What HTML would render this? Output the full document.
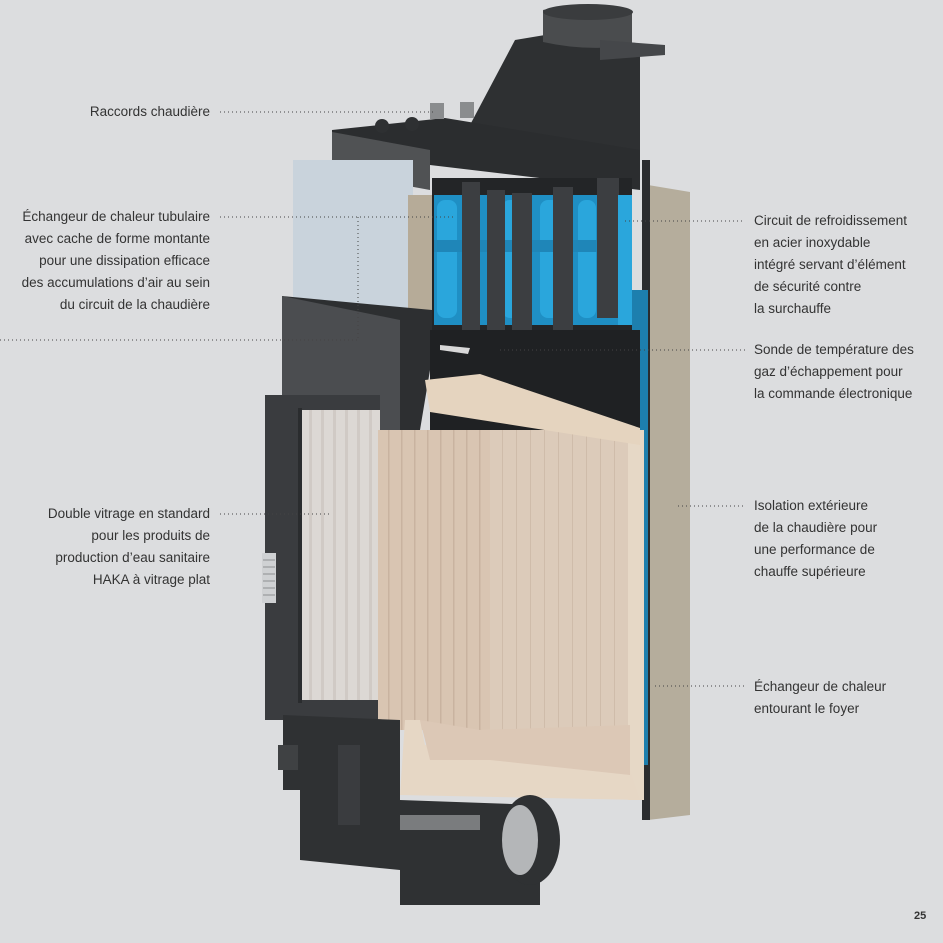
<!DOCTYPE html>
<html><head><meta charset="utf-8"><style>
html,body{margin:0;padding:0;background:#dcdddf;}
#c{position:relative;width:943px;height:943px;overflow:hidden;font-family:"Liberation Sans",sans-serif;color:#333;font-size:13.5px;}
.t{position:absolute;line-height:22px;white-space:nowrap}
.l{text-align:right;right:733px}
</style></head><body><div id="c">
<svg width="943" height="943" style="position:absolute;left:0;top:0">
<defs>
<pattern id="st" width="13" height="10" patternUnits="userSpaceOnUse"><rect width="13" height="10" fill="#d9c5b2"/><rect x="11" width="1.5" height="10" fill="#c9b3a0"/></pattern>
<pattern id="st2" width="14" height="10" patternUnits="userSpaceOnUse"><rect width="14" height="10" fill="#dccbba"/><rect x="12" width="1" height="10" fill="#cfbcaa"/></pattern>
<pattern id="gl" width="12" height="10" patternUnits="userSpaceOnUse"><rect width="12" height="10" fill="#dcd8d4"/><rect x="9" width="3" height="10" fill="#d0cac5"/></pattern>
</defs>
<!-- chimney -->
<path d="M515 40 L545 35 L640 48 L640 160 L470 125 Z" fill="#2e3032"/>
<path d="M543 10 Q588 -2 632 12 L632 45 Q588 52 543 42 Z" fill="#4a4c4e"/>
<ellipse cx="588" cy="12" rx="45" ry="8" fill="#3a3c3e"/>
<path d="M600 40 L665 45 L665 55 L600 60 Z" fill="#45474a"/>
<!-- top plate -->
<path d="M332 130 L445 118 L640 150 L640 190 L430 165 L332 160 Z" fill="#2b2d2f"/>
<path d="M332 132 L430 150 L430 190 L332 172 Z" fill="#505254"/>
<circle cx="382" cy="126" r="7" fill="#2e3032"/><circle cx="412" cy="124" r="7" fill="#2e3032"/>
<rect x="430" y="103" width="14" height="16" fill="#8a8c8e"/><rect x="460" y="102" width="14" height="16" fill="#8a8c8e"/>
<!-- insulation box left -->
<rect x="293" y="160" width="120" height="170" fill="#c9d3dc"/>
<rect x="408" y="195" width="25" height="135" fill="#b6ab98"/>
<!-- exchanger -->
<rect x="432" y="178" width="200" height="152" fill="#232527"/>
<rect x="434" y="195" width="196" height="130" fill="#1f8fc4"/>
<g fill="#2aa6dc"><rect x="437" y="200" width="20" height="118" rx="8"/><rect x="502" y="200" width="20" height="118" rx="8"/><rect x="540" y="200" width="20" height="118" rx="8"/><rect x="578" y="200" width="18" height="118" rx="8"/></g>
<rect x="434" y="240" width="196" height="12" fill="#1f86b8"/>
<g fill="#3c3e41"><rect x="462" y="182" width="18" height="150"/><rect x="487" y="190" width="18" height="145"/><rect x="512" y="193" width="20" height="148"/><rect x="553" y="187" width="20" height="145"/><rect x="597" y="178" width="22" height="140"/></g>
<rect x="618" y="195" width="14" height="130" fill="#2aa6dc"/>
<!-- right insulation -->
<path d="M648 185 L690 192 L690 815 L648 820 Z" fill="#b5ad9c"/>
<rect x="642" y="160" width="8" height="660" fill="#2a2c2e"/>
<rect x="632" y="290" width="16" height="475" fill="#1d7fae"/>
<!-- main dark body -->
<path d="M282 296 L432 310 L432 340 L640 340 L640 440 L430 370 L420 430 L380 440 L282 430 Z" fill="#2d2f31"/>
<path d="M282 296 L400 320 L400 440 L282 420 Z" fill="#4b4d50"/>
<rect x="430" y="330" width="210" height="110" fill="#1f2123"/>
<path d="M440 345 L470 348 L468 354 L440 350 Z" fill="#d8d8d8"/>
<!-- door frame -->
<rect x="265" y="395" width="115" height="325" fill="#3a3c3f"/>
<rect x="300" y="410" width="80" height="290" fill="url(#gl)"/>
<rect x="298" y="408" width="4" height="295" fill="#2a2c2e"/>
<rect x="262" y="553" width="14" height="50" fill="#cfd1d3"/>
<g stroke="#8d8f91" stroke-width="1"><line x1="263" y1="560" x2="275" y2="560"/><line x1="263" y1="567" x2="275" y2="567"/><line x1="263" y1="574" x2="275" y2="574"/><line x1="263" y1="581" x2="275" y2="581"/><line x1="263" y1="588" x2="275" y2="588"/><line x1="263" y1="595" x2="275" y2="595"/></g>
<!-- firebox -->
<rect x="378" y="430" width="120" height="300" fill="url(#st)"/>
<rect x="490" y="430" width="140" height="300" fill="url(#st2)"/>
<rect x="628" y="430" width="16" height="370" fill="#e6d8c6"/>
<path d="M425 380 L480 374 L640 428 L640 445 L430 412 Z" fill="#e5d4bf"/>
<path d="M405 720 L420 720 L425 745 L480 730 L630 728 L630 770 L640 800 L400 795 Z" fill="#e6d7c5"/>
<path d="M420 720 L430 760 L490 760 L630 775 L630 725 L480 730 Z" fill="#dcc8b6"/>
<!-- base -->
<path d="M283 715 L400 720 L400 800 L540 805 L540 905 L400 905 L400 870 L300 860 L300 790 L283 790 Z" fill="#2f3133"/>
<rect x="278" y="745" width="20" height="25" fill="#3f4143"/>
<rect x="338" y="745" width="22" height="80" fill="#3a3c3f"/>
<rect x="400" y="815" width="80" height="15" fill="#7a7c7e"/>
<ellipse cx="530" cy="840" rx="30" ry="45" fill="#2f3133"/>
<ellipse cx="520" cy="840" rx="18" ry="35" fill="#b4b6b8"/>
<!-- leaders -->
<g stroke="#444" stroke-width="1" stroke-dasharray="1 3" fill="none">
<path d="M220 112 H435"/>
<path d="M220 217 H455 M358 217 V340 H0"/>
<path d="M220 514 H330"/>
<path d="M625 221 H745"/>
<path d="M500 350 H745"/>
<path d="M678 506 H745"/>
<path d="M655 686 H745"/>
</g>
</svg>
<div class="t l" style="top:101px">Raccords chaudière</div>
<div class="t l" style="top:206px">Échangeur de chaleur tubulaire<br>avec cache de forme montante<br>pour une dissipation efficace<br>des accumulations d’air au sein<br>du circuit de la chaudière</div>
<div class="t l" style="top:503px">Double vitrage en standard<br>pour les produits de<br>production d’eau sanitaire<br>HAKA à vitrage plat</div>
<div class="t" style="left:754px;top:210px">Circuit de refroidissement<br>en acier inoxydable<br>intégré servant d’élément<br>de sécurité contre<br>la surchauffe</div>
<div class="t" style="left:754px;top:339px">Sonde de température des<br>gaz d’échappement pour<br>la commande électronique</div>
<div class="t" style="left:754px;top:495px">Isolation extérieure<br>de la chaudière pour<br>une performance de<br>chauffe supérieure</div>
<div class="t" style="left:754px;top:676px">Échangeur de chaleur<br>entourant le foyer</div>
<div class="t" style="left:914px;top:905px;font-weight:bold;font-size:11px">25</div>
</div></body></html>
